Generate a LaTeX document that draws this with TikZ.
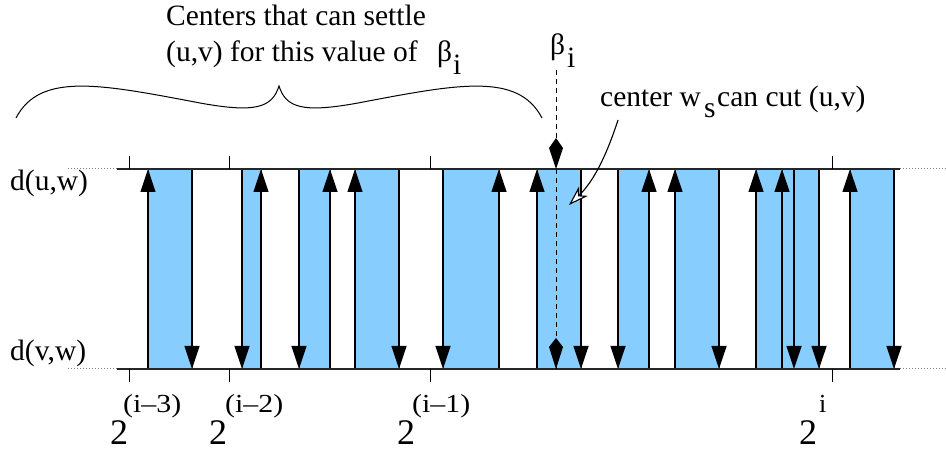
\documentclass[tikz,border=0pt]{standalone}
\usepackage{fontspec}
\setmainfont{Liberation Serif}
\usetikzlibrary{arrows.meta}
\definecolor{ltblue}{HTML}{87CEFF}
\definecolor{edgegray}{HTML}{505050}
\begin{document}
\begin{tikzpicture}[x=1pt,y=-1pt,
  lbl/.style={anchor=base west, inner sep=0pt, font=\fontsize{29.5}{32}\selectfont},
  big/.style={anchor=base west, inner sep=0pt, font=\fontsize{36}{40}\selectfont},
  sup/.style={anchor=base west, inner sep=0pt, font=\fontsize{26}{28}\selectfont},
  bar/.style={fill=ltblue, draw=edgegray, line width=0.8pt},
  arr/.style={-{Triangle[length=23pt,width=15pt]}, line width=1.2pt},
  axisline/.style={line width=1.2pt, draw=black!85},
  dotl/.style={dotted, line width=1pt, draw=black!50},
  tickm/.style={line width=1pt},
  brace/.style={line width=1pt}]
\useasboundingbox (0,0) rectangle (946,454);

% bars
\foreach \xa/\xb in {148/192,242/261,299/330,355/399,443/499,537/581,618/649,675/719,756/794,782/819,850/894}{
  \filldraw[bar] (\xa,169) rectangle (\xb,369);
}
% arrows: dir 1 = left edge up, right edge down
\foreach \xa/\xb/\dir in {148/192/1,242/261/0,299/330/0,355/399/1,443/499/0,537/581/1,618/649/0,675/719/1,756/794/1,782/819/1,850/894/1}{
  \coordinate (la) at (\xa,169); \coordinate (lb) at (\xa,369);
  \coordinate (ra) at (\xb,169); \coordinate (rb) at (\xb,369);
  \ifnum\dir=1
    \draw[arr] (lb) -- (la);
    \draw[arr] (ra) -- (rb);
  \else
    \draw[arr] (la) -- (lb);
    \draw[arr] (rb) -- (ra);
  \fi
}

% axes
\coordinate (tl) at (117,169); \coordinate (tr) at (900,169);
\coordinate (bl) at (117,369); \coordinate (br) at (900,369);
\coordinate (tll) at (68,169); \coordinate (trr) at (946,169);
\coordinate (bll) at (68,369); \coordinate (brr) at (946,369);
\draw[axisline] (tl) -- (tr);
\draw[axisline] (bl) -- (br);
\draw[dotl] (tll) -- (tl);
\draw[dotl] (tr) -- (trr);
\draw[dotl] (bll) -- (bl);
\draw[dotl] (br) -- (brr);

% ticks
\foreach \x in {129,229,430,832}{
  \draw[tickm] (\x,156) -- (\x,169);
  \draw[tickm] (\x,369) -- (\x,382);
}

% beta dashed line with kites
\coordinate (bt) at (556,70); \coordinate (bb) at (556,369);
\draw[dash pattern=on 5pt off 4pt, line width=1pt] (bt) -- (bb);
\fill (556,169) -- (563,148) -- (556,138) -- (549,148) -- cycle;
\fill (556,369) -- (563,347) -- (556,338) -- (549,347) -- cycle;

% brace
\draw[brace] (16,118) .. controls (40,72) and (100,84) .. (200,103)
  .. controls (255,113) and (272,108) .. (279,86)
  .. controls (286,108) and (303,113) .. (358,103)
  .. controls (458,84) and (518,72) .. (542,118);

% labels top
\node[lbl] (c1) at (166,26) {Centers that can settle};
\node[lbl] (c2) at (166,62) {(u,v) for this value of};
\node[lbl] (c2b) at (437,62) {β};
\node[lbl] (c2i) at (453,75) {i};
\node[lbl] (bl1) at (550,55) {β};
\node[lbl] (bl2) at (567,68) {i};

% center ws label and arrow
\node[lbl] (w1) at (600,107) {center w};
\node[lbl] (w2) at (704,118) {s};
\node[lbl] (w3) at (717,107) {can cut (u,v)};
\coordinate (as) at (618,120); \coordinate (ae) at (569,205);
\draw[line width=1.1pt, -{Stealth[fill=white,length=20pt,width=13pt,inset=6pt]}] (as) .. controls (605,160) and (592,183) .. (ae);

% left labels
\node[lbl] (duw) at (10,191) {d(u,w)};
\node[lbl] (dvw) at (10,361) {d(v,w)};

% bottom labels
\node[big] (t1) at (110,445) {2};
\node[sup] (s1) at (123,413) {\scalebox{1.15}[1]{(i–3)}};
\node[big] (t2) at (209,445) {2};
\node[sup] (s2) at (225,413) {\scalebox{1.15}[1]{(i–2)}};
\node[big] (t3) at (397,445) {2};
\node[sup] (s3) at (412,413) {\scalebox{1.15}[1]{(i–1)}};
\node[big] (t4) at (799,445) {2};
\node[sup] (s4) at (819,413) {i};
\end{tikzpicture}
\end{document}
